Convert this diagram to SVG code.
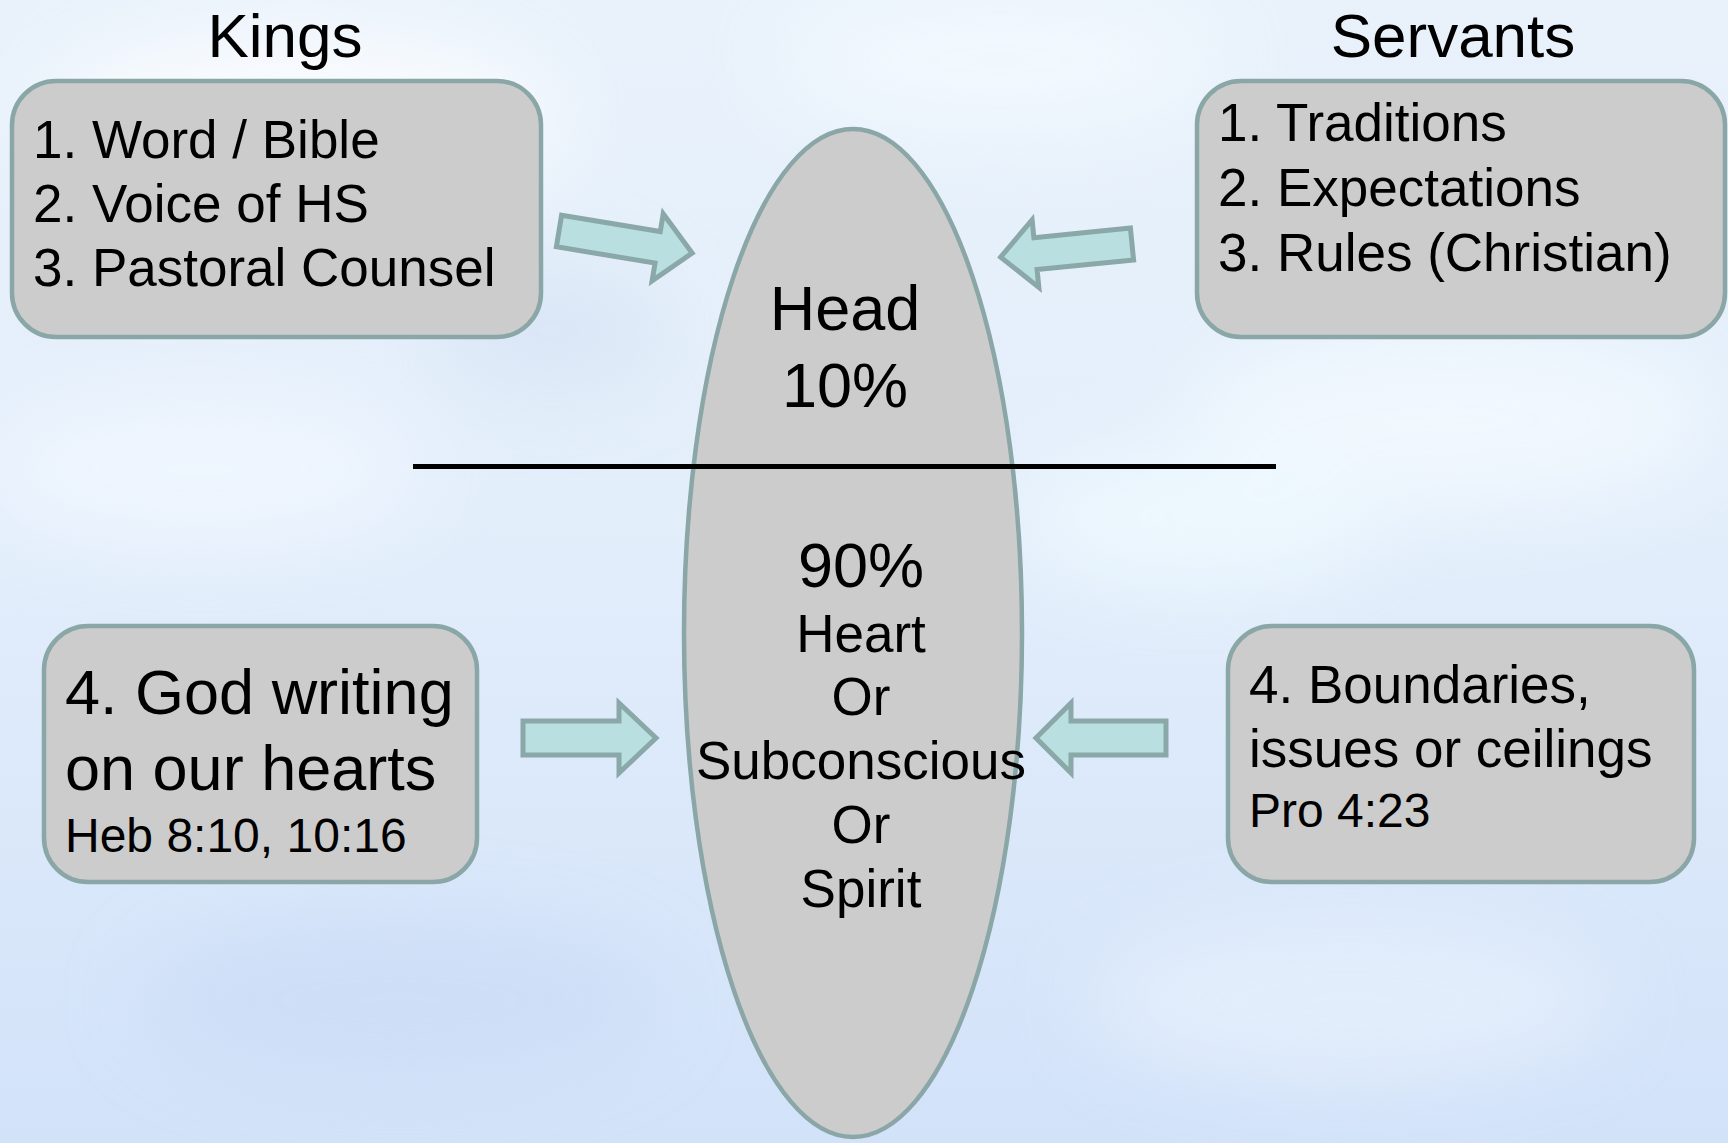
<svg xmlns="http://www.w3.org/2000/svg" width="1728" height="1143" viewBox="0 0 1728 1143">
  <defs>
    <linearGradient id="bg" x1="0" y1="0" x2="0" y2="1">
      <stop offset="0" stop-color="#e9f2fb"/>
      <stop offset="0.45" stop-color="#e3eefb"/>
      <stop offset="1" stop-color="#d2e2f9"/>
    </linearGradient>
    <filter id="soft" x="-50%" y="-50%" width="200%" height="200%">
      <feGaussianBlur stdDeviation="40"/>
    </filter>
    <style>
      .box { fill: #cccccc; stroke: #8aa6a6; stroke-width: 4.5; }
      .arrow { fill: #b9dfe0; stroke: #8aa8a8; stroke-width: 5; stroke-linejoin: miter; }
      .t { font-family: "Liberation Sans", Arial, sans-serif; fill: #000000; }
      .title { font-size: 62px; text-anchor: middle; }
      .item { font-size: 53px; }
      .big { font-size: 63px; }
      .ref { font-size: 48px; }
      .mid { text-anchor: middle; }
    </style>
  </defs>

  <g id="background">
    <rect x="0" y="0" width="1728" height="1143" fill="url(#bg)"/>
    <g filter="url(#soft)" opacity="0.75">
      <ellipse cx="300" cy="120" rx="260" ry="90" fill="#ffffff"/>
      <ellipse cx="1000" cy="60" rx="220" ry="70" fill="#f4fbff"/>
      <ellipse cx="1450" cy="420" rx="260" ry="90" fill="#f4fbff"/>
      <ellipse cx="200" cy="470" rx="220" ry="80" fill="#f2f8ff"/>
      <ellipse cx="1200" cy="520" rx="180" ry="70" fill="#f0fbff"/>
      <ellipse cx="400" cy="1000" rx="260" ry="80" fill="#cbdcf6"/>
      <ellipse cx="1350" cy="1000" rx="260" ry="80" fill="#e6f1fc"/>
      <ellipse cx="550" cy="330" rx="120" ry="60" fill="#d6e3f4"/>
    </g>
  </g>

  <g id="mind">
    <ellipse class="box" cx="853" cy="633" rx="169" ry="504"/>
    <text class="t big mid" x="845" y="330">Head</text>
    <text class="t big mid" x="845" y="407">10%</text>
    <text class="t big mid" x="861" y="587">90%</text>
    <text class="t item mid" x="861" y="652">Heart</text>
    <text class="t item mid" x="861" y="715">Or</text>
    <text class="t item mid" x="861" y="779">Subconscious</text>
    <text class="t item mid" x="861" y="843">Or</text>
    <text class="t item mid" x="861" y="907">Spirit</text>
  </g>

  <g id="divider">
    <line x1="413" y1="466.5" x2="1276" y2="466.5" stroke="#000000" stroke-width="5"/>
  </g>

  <g id="kings-title">
    <text class="t title" x="285" y="57">Kings</text>
  </g>
  <g id="servants-title">
    <text class="t title" x="1453" y="57">Servants</text>
  </g>

  <g id="kings">
    <rect class="box" x="12" y="81" width="529" height="256" rx="44" ry="44"/>
    <text class="t item" x="33" y="158">1. Word / Bible</text>
    <text class="t item" x="33" y="222">2. Voice of HS</text>
    <text class="t item" x="33" y="286">3. Pastoral Counsel</text>
  </g>

  <g id="servants">
    <rect class="box" x="1197" y="81" width="528" height="256" rx="44" ry="44"/>
    <text class="t item" x="1218" y="141">1. Traditions</text>
    <text class="t item" x="1218" y="206">2. Expectations</text>
    <text class="t item" x="1218" y="271">3. Rules (Christian)</text>
  </g>

  <g id="god-writing">
    <rect class="box" x="44" y="626" width="433" height="256" rx="44" ry="44"/>
    <text class="t big" x="65" y="714">4. God writing</text>
    <text class="t big" x="65" y="790">on our hearts</text>
    <text class="t ref" x="65" y="852">Heb 8:10, 10:16</text>
  </g>

  <g id="boundaries">
    <rect class="box" x="1228" y="626" width="466" height="256" rx="44" ry="44"/>
    <text class="t item" x="1249" y="703">4. Boundaries,</text>
    <text class="t item" x="1249" y="767">issues or ceilings</text>
    <text class="t ref" x="1249" y="827">Pro 4:23</text>
  </g>

  <g id="connectors">
    <path class="arrow" transform="translate(559,231) rotate(9.4)" d="M0,-16 L100,-16 L100,-34 L135,0 L100,34 L100,16 L0,16 Z"/>
    <path class="arrow" transform="translate(1132,244) rotate(174.3)" d="M0,-16 L97,-16 L97,-34 L132,0 L97,34 L97,16 L0,16 Z"/>
    <path class="arrow" transform="translate(523,738)" d="M0,-17 L96,-17 L96,-35 L133,0 L96,35 L96,17 L0,17 Z"/>
    <path class="arrow" transform="translate(1166,738) rotate(180)" d="M0,-17 L95,-17 L95,-35 L130,0 L95,35 L95,17 L0,17 Z"/>
  </g>
</svg>
